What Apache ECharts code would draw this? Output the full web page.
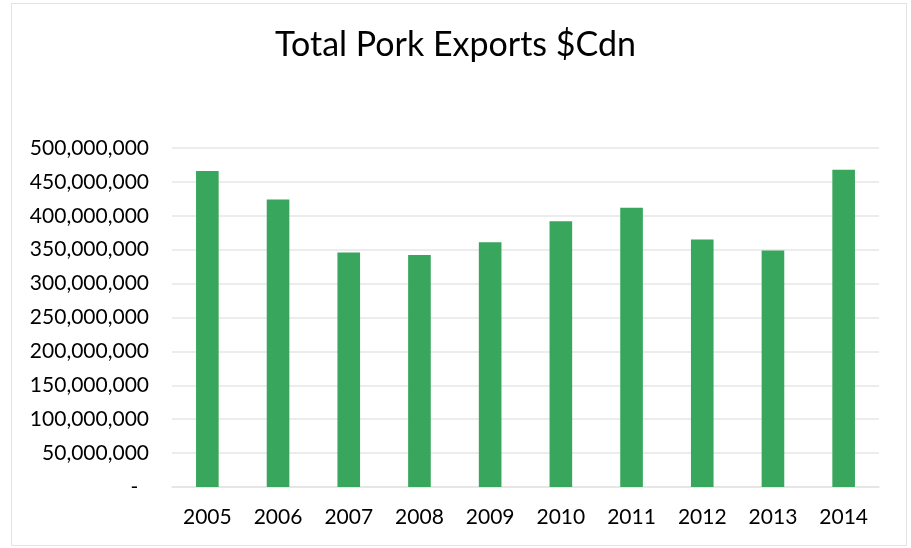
<!DOCTYPE html>
<html>
<head>
<meta charset="utf-8">
<title>Total Pork Exports $Cdn</title>
<script src="https://cdn.jsdelivr.net/npm/echarts@6/dist/echarts.min.js"></script>
<style>
  html, body { margin: 0; padding: 0; background: #ffffff; }
  #frame {
    position: absolute; left: 11px; top: 3px; width: 896px; height: 543px;
    border: 1px solid #e3e3e3; box-sizing: border-box;
  }
  #chart { position: absolute; left: 0; top: 0; width: 911px; height: 548px; }
</style>
</head>
<body>
<div id="frame"></div>
<div id="chart"></div>
<script>
// Annual pork export value, Canadian dollars
const years = ['2005', '2006', '2007', '2008', '2009', '2010', '2011', '2012', '2013', '2014'];
const exportValues = [466000000, 424000000, 346000000, 342000000, 361000000, 392000000, 412000000, 365000000, 349000000, 468000000];
const titleText = 'Total Pork Exports $Cdn';

const FONT = 'Lato';

function formatAccounting(v) {
  if (v === 0) return '-  ';
  return v.toLocaleString('en-US');
}

const chart = echarts.init(document.getElementById('chart'), null, { renderer: 'canvas' });
chart.setOption({
  backgroundColor: 'transparent',
  animation: false,
  title: {
    text: titleText,
    left: 'center',
    top: 23,
    textStyle: { fontFamily: FONT, fontWeight: 'normal', fontSize: 34, color: '#000000' }
  },
  grid: { left: 172, right: 32, top: 148, bottom: 61, containLabel: false },
  xAxis: {
    type: 'category',
    data: years,
    axisLine: { show: true, lineStyle: { color: '#e3e3e3', width: 1.5 } },
    axisTick: { show: false },
    axisLabel: { fontFamily: FONT, fontSize: 21, color: '#000000', margin: 20 }
  },
  yAxis: {
    type: 'value',
    min: 0,
    max: 500000000,
    interval: 50000000,
    axisLine: { show: false },
    axisTick: { show: false },
    splitLine: { lineStyle: { color: '#e6e6e6', width: 1.5 } },
    axisLabel: {
      fontFamily: FONT, fontSize: 21, color: '#000000', margin: 23,
      formatter: formatAccounting
    }
  },
  series: [{
    type: 'bar',
    data: exportValues,
    barWidth: '32%',
    itemStyle: { color: '#38a65c' }
  }]
});
</script>
</body>
</html>
